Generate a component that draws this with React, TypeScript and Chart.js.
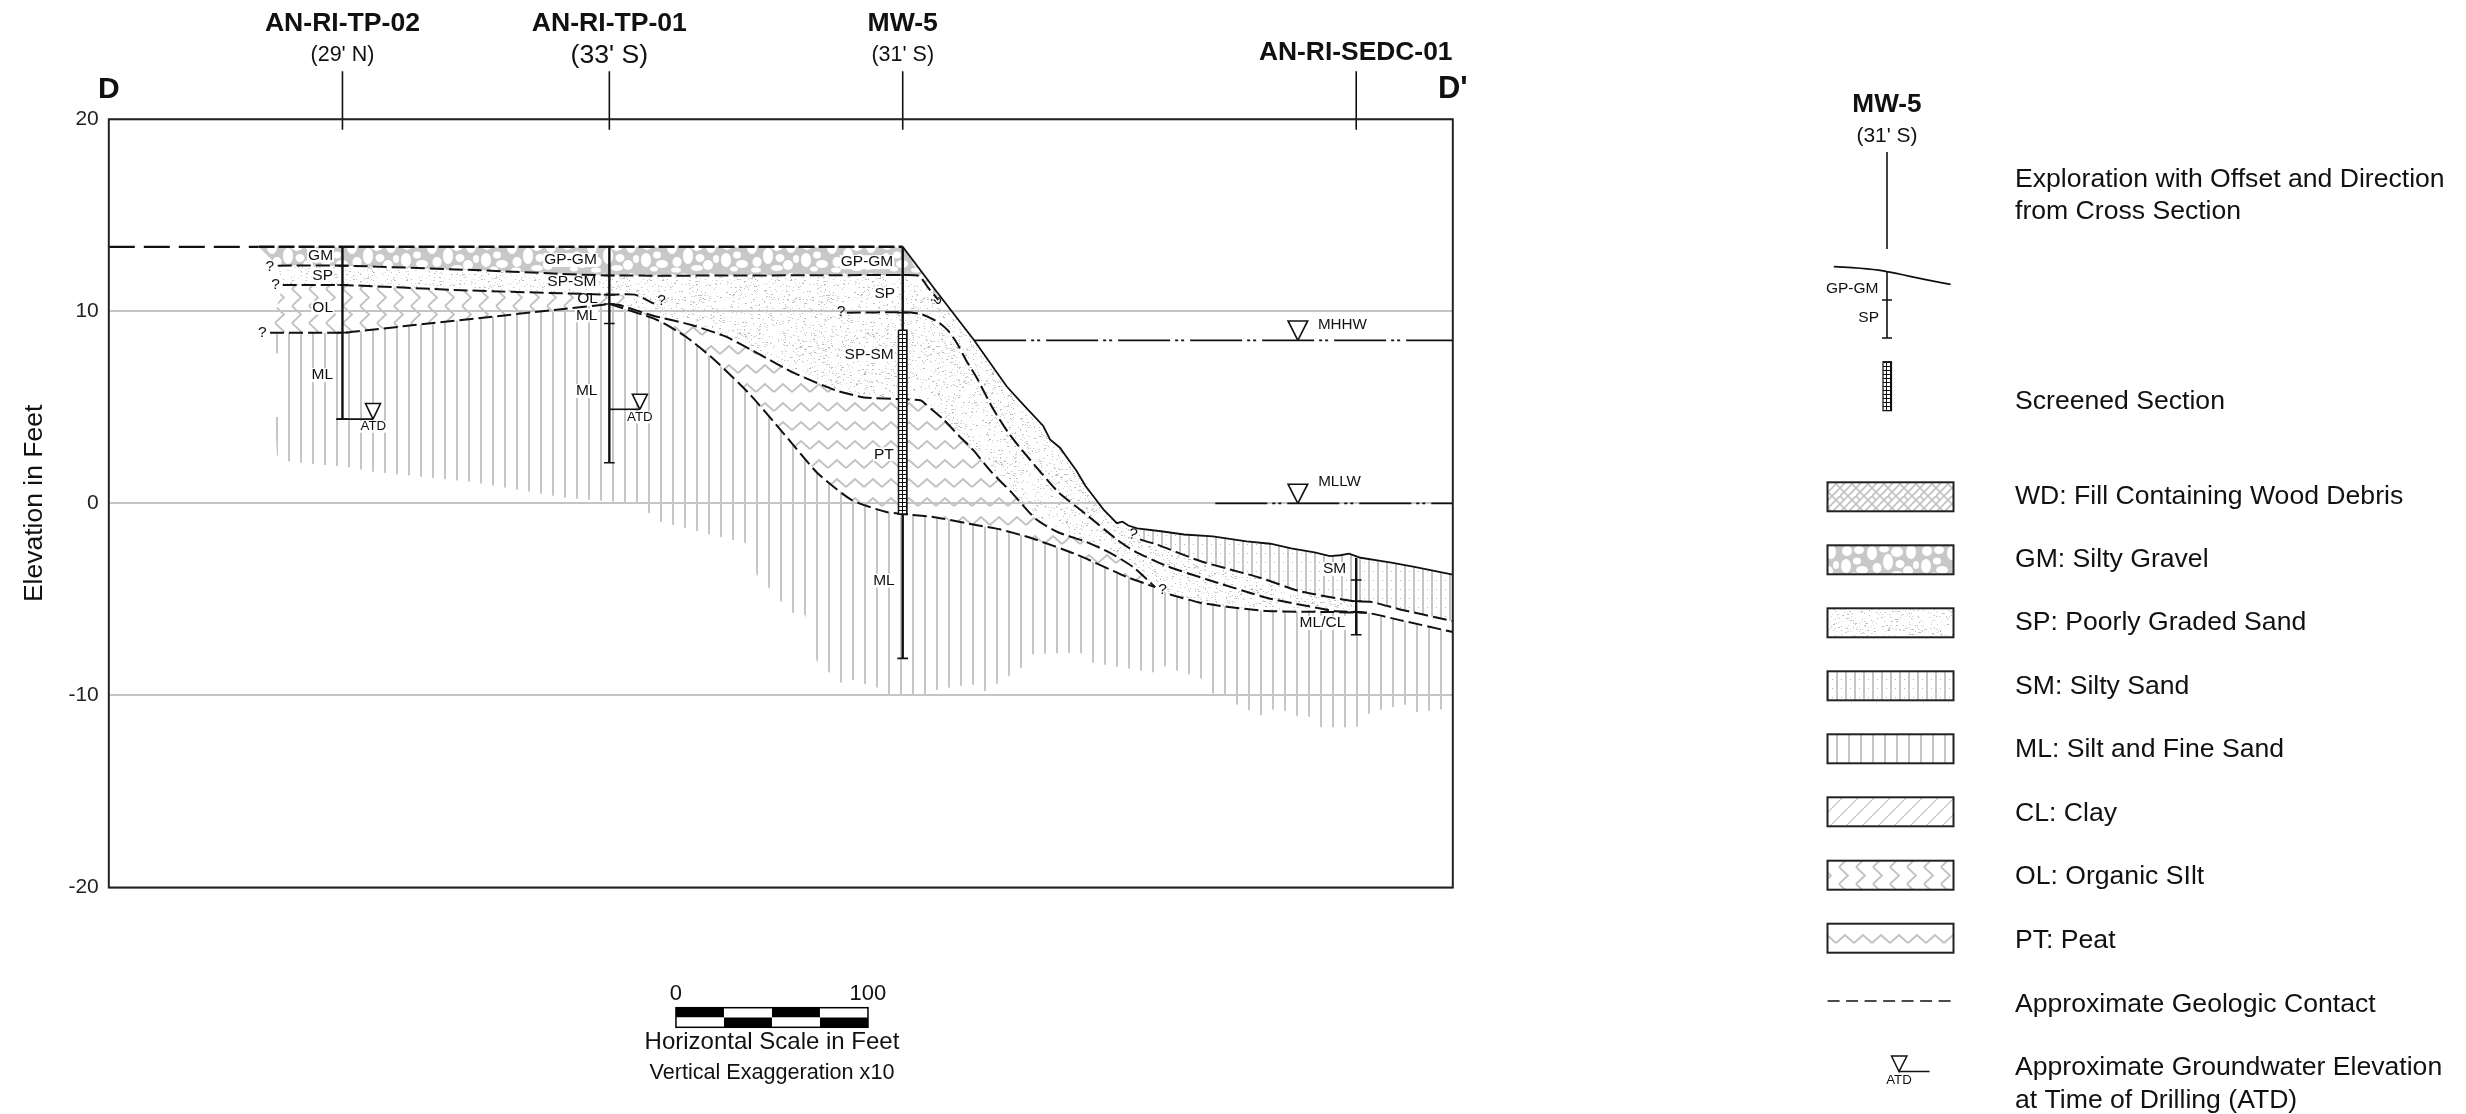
import React, { useEffect, useRef } from "react";
import { Chart, registerables } from "chart.js";

Chart.register(...registerables);

const FONT = '"Liberation Sans", Arial, sans-serif';

// ---------- axis ----------
const xMin = 0, xMax = 700;
const yMin = -20, yMax = 20;
const yTitle = "Elevation in Feet";

// ---------- borings ----------
const boringNames = ["AN-RI-TP-02", "AN-RI-TP-01", "MW-5", "AN-RI-SEDC-01"];
const boringOffsets = ["(29' N)", "(33' S)", "(31' S)", ""];
const boringX = [121.7, 260.7, 413.5, 649.7];
const boringTop = [13.36, 13.36, 13.36, -2.83];
const boringBottom = [4.39, 2.12, -8.07, -6.84];
const boringTicks = [
  [12.38, 11.37, 8.89, 4.39],
  [11.87, 10.87, 10.38, 9.37, 2.12],
  [11.89, 9.93, 5.42, -0.55, -8.07],
  [-3.99, -5.09, -5.66, -6.84],
];

// ---------- surfaces and contacts ----------
const groundX = [413.5, 431, 450.5, 467.6, 474.6, 486.7, 490.2, 495.4, 499.5, 504, 508.8, 513, 518, 525, 528, 531, 535.6, 548, 560, 575, 592.6, 605, 615.8, 628, 636, 641.4, 646, 652, 662.3, 668, 680, 700];
const groundY = [13.36, 11.05, 8.52, 6.1, 5.33, 4.03, 3.33, 2.9, 2.32, 1.7, 0.89, 0.35, -0.31, -1.03, -0.95, -1.15, -1.3, -1.45, -1.62, -1.72, -1.98, -2.1, -2.34, -2.55, -2.75, -2.7, -2.62, -2.83, -2.99, -3.08, -3.3, -3.71];
const topDashLeftX = [0, 78];
const topDashRightX = [78, 413.5];
const topDashY = [13.36, 13.36];

const gmSpX = [88, 122, 190, 261, 414, 422, 427, 432];
const gmSpY = [12.38, 12.38, 12.15, 11.87, 11.89, 11.84, 11.2, 10.6];
const spOlX = [90.6, 122, 184, 261, 274, 284];
const spOlY = [11.37, 11.37, 11.1, 10.87, 10.87, 10.4];
const olMlX = [84, 122, 130, 232, 261];
const olMlY = [8.89, 8.89, 8.97, 10.07, 10.38];
const peatTopX = [261, 266, 282.6, 303.5, 321.5, 338, 357.4, 378.3, 393.3, 414, 423, 425, 434.6, 443, 450, 460, 470.3, 483, 495, 508, 521.5, 534, 545];
const peatTopY = [10.38, 10.33, 9.8, 9.29, 8.68, 7.81, 6.77, 5.9, 5.52, 5.42, 5.36, 5.2, 4.38, 3.5, 2.8, 1.6, 0.56, -0.83, -1.53, -1.96, -2.57, -3.35, -4.36];
const peatBaseX = [285.6, 300.6, 315.5, 333.4, 351.4, 369.3, 387, 405, 413.6, 430, 453, 464, 480, 504, 530, 545];
const peatBaseY = [9.55, 8.68, 7.47, 5.73, 3.65, 1.56, 0.17, -0.45, -0.55, -0.72, -1.15, -1.35, -1.79, -2.66, -3.82, -4.36];
const sandBaseX = [552.7, 568.4, 582.3, 603.1, 637.8, 655.2];
const sandBaseY = [-4.74, -5.17, -5.38, -5.6, -5.66, -5.69];
const spSmX = [384.4, 414, 423, 432, 437.3, 441.6, 446.8, 452, 460.7, 468.5, 474.6, 494, 508, 525, 534, 551, 572, 603, 620, 638, 655, 673, 700];
const spSmY = [9.93, 9.95, 9.86, 9.44, 8.98, 8.37, 7.4, 6.55, 4.9, 3.68, 2.9, 0.64, -0.49, -1.875, -2.48, -3.26, -3.96, -4.91, -5.26, -5.6, -5.69, -6.09, -6.7];
const smBaseX = [537, 545.8, 568.4, 599.6, 620.4, 648.2, 657, 672.6, 700];
const smBaseY = [-1.875, -2.14, -3, -3.87, -4.57, -5.09, -5.12, -5.52, -6.13];
const mlRightX = [673, 700];
const mlRightY = [-6.09, -6.7];

const mlBottomX = [87.6, 94.2, 124, 137.6, 188.4, 213.8, 237.7, 275, 287, 300, 312.3, 331.4, 337.4, 343.5, 349.6, 356, 362.6, 368.7, 374.8, 381.2, 387.4, 393.7, 400, 406, 425, 431.2, 437.3, 443.7, 450, 456, 462.4, 468.5, 475, 481.2, 493.7, 505.9, 512.5, 518.9, 525, 531.2, 537.5, 543.7, 550, 556.2, 562.5, 568.7, 575, 581.4, 587.5, 593.7, 600, 606.2, 612.5, 618.7, 625, 631.2, 649.9, 656.2, 662.5, 668.7, 675.1, 681.2, 693.7, 700];
const mlBottomY = [2.5, 2.17, 1.9, 1.65, 1.13, 0.7, 0.3, 0, -0.95, -1.27, -1.6, -2.05, -3.7, -4.36, -5.05, -5.7, -5.8, -8.2, -8.77, -9.34, -9.2, -9.4, -9.57, -10.03, -10.03, -9.72, -9.6, -9.5, -9.43, -9.8, -9.4, -9, -8.6, -7.86, -7.8, -7.78, -8.3, -8.4, -8.5, -8.6, -8.7, -8.8, -8.47, -8.7, -8.9, -9.1, -9.9, -10.03, -10.47, -10.76, -11.04, -10.73, -10.8, -11.08, -11.08, -11.65, -11.65, -10.94, -10.76, -10.6, -10.47, -10.87, -10.73, -10.64];
const mlBreakX = [85, 90, 90, 85];
const mlBreakY = [7.8, 7.8, 4.5, 4.5];

// ---------- screen, water levels ----------
const screenX = [411.3, 415.7, 415.7, 411.3, 411.3];
const screenY = [9.02, 9.02, -0.55, -0.55, 9.02];
const mhhwX = [450.7, 700];
const mhhwY = [8.49, 8.49];
const mllwX = [576.3, 700];
const mllwY = [0, 0];
const atd1X = [118.4, 137.6];
const atd1Y = [4.39, 4.39];
const atd2X = [260.7, 276.6];
const atd2Y = [4.9, 4.9];
const triTipX = [137.6, 276.6, 619.3, 619.3];
const triTipY = [4.39, 4.9, 8.49, 0];
const triTopY = [5.2, 5.68, 9.5, 1.0];
const triHalf = [3.9, 3.9, 5.1, 5.1];

// ---------- labels inside the section ----------
const soilText = ["GM", "SP", "OL", "ML", "GP-GM", "SP-SM", "OL", "ML", "ML", "GP-GM", "SP", "SP-SM", "PT", "ML", "SM", "ML/CL"];
const soilX = [110.3, 111.4, 111.4, 111.2, 240.5, 241.2, 249.4, 248.9, 248.9, 394.9, 404.2, 396, 403.7, 403.7, 638.4, 632.1];
const soilY = [12.92, 11.87, 10.19, 6.68, 12.67, 11.53, 10.66, 9.79, 5.85, 12.56, 10.93, 7.75, 2.56, -4.02, -3.42, -6.22];
const queryX = [83.9, 86.9, 79.9, 287.9, 381.4, 430.5, 533.3, 548.8];
const queryY = [12.32, 11.4, 8.89, 10.54, 9.98, 10.57, -1.63, -4.5];
const queryTurn = [0, 0, 0, 0, 0, 90, 15, 0];
const waterText = ["ATD", "ATD", "MHHW", "MLLW"];
const waterX = [137.8, 276.6, 642.5, 641];
const waterY = [3.99, 4.48, 9.3, 1.12];

// ---------- legend and scale ----------
const legendSwatches = ["WD: Fill Containing Wood Debris", "GM: Silty Gravel", "SP: Poorly Graded Sand", "SM: Silty Sand", "ML: Silt and Fine Sand", "CL: Clay", "OL: Organic SIlt", "PT: Peat"];
const legendKeys = ["wd", "gm", "sp", "sm", "ml", "cl", "ol", "pt"];
const legendNotes = ["Exploration with Offset and Direction", "from Cross Section", "Screened Section", "Approximate Geologic Contact", "Approximate Groundwater Elevation", "at Time of Drilling (ATD)"];
const scaleTicks = ["0", "100"];
const scaleStartFt = 295.4;
const scaleSpanFt = 100;
const scaleTitle = "Horizontal Scale in Feet";
const scaleNote = "Vertical Exaggeration x10";

const pts = (xs: number[], ys: number[]) => xs.map((x, i) => ({ x, y: ys[i] }));
const rev = <T,>(a: T[]) => [...a].reverse();
const hash = (i: number) => {
  const s = Math.sin(i * 12.9898) * 43758.5453;
  return s - Math.floor(s);
};

function makeTile(w: number, h: number, draw: (c: CanvasRenderingContext2D) => void) {
  const c = document.createElement("canvas");
  c.width = w;
  c.height = h;
  draw(c.getContext("2d") as CanvasRenderingContext2D);
  return c;
}

const GRAVEL = [
  [7, 7, 5, 5], [19, 6, 5, 4], [32, 9, 5, 7], [44, 5, 5, 3.5], [57, 8, 6, 5], [71, 8, 5, 7],
  [6, 22, 5, 7], [17, 17, 4, 3.5], [22, 26, 6, 4], [37, 24, 4.5, 5], [48, 18, 5, 8], [60, 20, 4.5, 4],
  [68, 27, 5, 5], [76, 21, 3, 4], [14, 31, 4, 2.5], [36, 32, 5, 2.5], [57, 30, 6, 3],
];

function makePatterns(ctx: CanvasRenderingContext2D) {
  const gray = "#c2c2c2";
  const stroke = (c: CanvasRenderingContext2D, lw: number, p: number[][]) => {
    c.strokeStyle = gray;
    c.lineWidth = lw;
    c.beginPath();
    p.forEach(([x, y], i) => (i ? c.lineTo(x, y) : c.moveTo(x, y)));
    c.stroke();
  };
  const tiles: Record<string, HTMLCanvasElement> = {
    ml: makeTile(12, 4, (c) => {
      c.fillStyle = "#c6c6c6";
      c.fillRect(0, 0, 2, 4);
    }),
    sm: makeTile(9, 9, (c) => {
      c.fillStyle = "#c6c6c6";
      c.fillRect(0, 0, 2, 9);
      c.fillStyle = "#b5b5b5";
      c.fillRect(5, 4, 1, 1);
    }),
    sp: makeTile(128, 128, (c) => {
      for (let i = 0; i < 1150; i++) {
        const x = Math.floor(hash(i + 1) * 128);
        const y = Math.floor(hash(i + 5003) * 128);
        c.fillStyle = hash(i + 907) > 0.55 ? "#bdbdbd" : "#d6d6d6";
        c.fillRect(x, y, hash(i + 77) > 0.7 ? 2 : 1, 1);
      }
    }),
    gm: makeTile(80, 34, (c) => {
      c.fillStyle = "#c8c8c8";
      c.fillRect(0, 0, 80, 34);
      c.fillStyle = "#fff";
      GRAVEL.forEach(([x, y, rx, ry]) => {
        [-80, 0, 80].forEach((dx) =>
          [-34, 0, 34].forEach((dy) => {
            c.beginPath();
            c.ellipse(x + dx, y + dy, rx, ry, 0, 0, Math.PI * 2);
            c.fill();
          })
        );
      });
    }),
    pt: makeTile(18, 19, (c) => stroke(c, 2, [[0, 12], [9, 4], [18, 12]])),
    ol: makeTile(17, 17, (c) => stroke(c, 1.8, [[3, 0], [12, 8.5], [3, 17]])),
    cl: makeTile(16, 16, (c) => {
      stroke(c, 1.2, [[-2, 18], [18, -2]]);
    }),
    wd: makeTile(16, 16, (c) => {
      stroke(c, 1.6, [[-2, 18], [18, -2]]);
      stroke(c, 1.6, [[-2, 10], [10, -2]]);
      stroke(c, 1.6, [[6, 18], [18, 6]]);
      stroke(c, 1.6, [[-2, -2], [4, 4]]);
      stroke(c, 1.6, [[8, 0], [16, 8]]);
      stroke(c, 1.6, [[0, 8], [8, 16]]);
    }),
    screen: makeTile(4, 4, (c) => {
      c.fillStyle = "#fff";
      c.fillRect(0, 0, 4, 4);
      c.fillStyle = "#111";
      c.fillRect(2, 0, 1, 4);
      c.fillRect(0, 2, 4, 1);
    }),
  };
  const out: Record<string, CanvasPattern> = {};
  Object.keys(tiles).forEach((k) => {
    out[k] = ctx.createPattern(tiles[k], "repeat") as CanvasPattern;
  });
  return out;
}

function text(c: CanvasRenderingContext2D, s: string, x: number, y: number, font: string, align: CanvasTextAlign = "center", color = "#111") {
  c.font = font;
  c.textAlign = align;
  c.textBaseline = "middle";
  c.fillStyle = color;
  c.fillText(s, x, y);
}

export default function App() {
  const ref = useRef<HTMLCanvasElement>(null);

  useEffect(() => {
    const canvas = ref.current as HTMLCanvasElement;
    const ctx = canvas.getContext("2d") as CanvasRenderingContext2D;
    const pat = makePatterns(ctx);

    const line = (data: any[], width: number, dash: number[] = [], tension = 0) => ({
      data, showLine: true, pointRadius: 0, borderColor: "#111", borderWidth: width, borderDash: dash, tension, fill: false, clip: false,
    });
    const area = (data: any[], bg: any) => ({
      data, showLine: true, pointRadius: 0, borderColor: "rgba(0,0,0,0)", borderWidth: 0, backgroundColor: bg, fill: "shape",
    });

    const ground = pts(groundX, groundY);
    const gmSp = pts(gmSpX, gmSpY);
    const spOl = pts(spOlX, spOlY);
    const olMl = pts(olMlX, olMlY);
    const peatTop = pts(peatTopX, peatTopY);
    const peatBase = pts(peatBaseX, peatBaseY);
    const sandBase = pts(sandBaseX, sandBaseY);
    const smBase = pts(smBaseX, smBaseY);
    const mlBottom = pts(mlBottomX, mlBottomY);

    const lines: any[] = [];
    // well screen
    lines.push({ ...line(pts(screenX, screenY), 1.5), fill: "shape", backgroundColor: pat.screen });
    // water level triangles
    triTipX.forEach((x, i) => {
      lines.push({
        ...line([
          { x, y: triTipY[i] },
          { x: x - triHalf[i], y: triTopY[i] },
          { x: x + triHalf[i], y: triTopY[i] },
          { x, y: triTipY[i] },
        ], 1.6),
        fill: "shape",
        backgroundColor: "#fff",
      });
    });
    // borings with header stems and contact ticks
    boringX.forEach((x, i) => {
      lines.push(line([{ x, y: boringTop[i] }, { x, y: boringBottom[i] }], 2.4));
      lines.push(line([{ x, y: 22.5 }, { x, y: 19.45 }], 1.6));
      const ticks: any[] = [];
      boringTicks[i].forEach((y) => {
        ticks.push({ x: x - 2.8, y }, { x: x + 2.8, y }, { x: NaN, y: NaN });
      });
      lines.push(line(ticks, 1.6));
    });
    lines.push(line(pts(atd1X, atd1Y), 1.6));
    lines.push(line(pts(atd2X, atd2Y), 1.6));
    lines.push(line(pts(mhhwX, mhhwY), 1.8, [52, 5, 3, 3, 3, 6]));
    lines.push(line(pts(mllwX, mllwY), 1.8, [52, 5, 3, 3, 3, 6]));
    lines.push(line(ground, 1.8));
    lines.push(line(pts(topDashLeftX, topDashY), 2.2, [26, 9]));
    lines.push(line(pts(topDashRightX, topDashY), 2.4, [16, 4]));
    [gmSp, spOl, olMl, [olMl[olMl.length - 1], ...peatTop.slice(1)], pts(spSmX, spSmY), smBase, sandBase,
      [olMl[olMl.length - 1], ...peatBase]].forEach((d) => lines.push(line(d, 2, [14, 5], 0.2)));

    const fills: any[] = [
      // sand body (SP and SP-SM)
      area([
        ...gmSp.slice(0, 5),
        ...ground.filter((p) => p.x >= 431 && p.x <= 531),
        ...smBase.filter((p) => p.x <= 648.2),
        { x: 648.2, y: -5.66 },
        ...rev(sandBase.filter((p) => p.x <= 648)),
        ...rev(peatTop.slice(1)),
        ...rev(spOl.slice(0, 5)),
      ], pat.sp),
      // silty gravel
      area([
        { x: 78, y: 13.36 },
        { x: 413.5, y: 13.36 },
        { x: 431, y: 11.05 },
        ...rev(gmSp),
      ], pat.gm),
      // organic silt
      area([
        ...spOl.slice(0, 5),
        peatTop[1],
        ...rev(olMl),
      ], pat.ol),
      // peat
      area([...peatTop, ...rev(peatBase), olMl[olMl.length - 1]], pat.pt),
      // silty sand
      area([
        ...ground.filter((p) => p.x >= 535.6),
        ...rev(smBase),
      ], pat.sm),
      // break in the ML hatching
      area(pts(mlBreakX, mlBreakY), "#fff"),
      // silt and fine sand
      area([
        ...olMl,
        ...peatBase,
        ...sandBase,
        ...pts(mlRightX, mlRightY),
        ...rev(mlBottom),
      ], pat.ml),
    ];
    const firstFill = lines.length;

    const sectionPlugin = {
      id: "section",
      afterDatasetDraw(chart: any, args: any) {
        if (args.index !== firstFill) return;
        const c = chart.ctx;
        const { x, y } = chart.scales;
        c.save();
        c.fillStyle = "#fff";
        const mask = (s: string, px: number, py: number, size: number) => {
          c.font = `${size}px ${FONT}`;
          const w = c.measureText(s).width;
          c.fillRect(px - w / 2 - 1, py - size * 0.45, w + 2, size * 0.9);
        };
        soilText.forEach((s, i) => mask(s, x.getPixelForValue(soilX[i]), y.getPixelForValue(soilY[i]), 15.5));
        waterText.slice(0, 2).forEach((s, i) => mask(s, x.getPixelForValue(waterX[i]), y.getPixelForValue(waterY[i]), 13.3));
        c.restore();
      },
      afterDatasetsDraw(chart: any) {
        const c = chart.ctx;
        const { x, y } = chart.scales;
        const { left, top, right, bottom } = chart.chartArea;
        c.save();
        c.strokeStyle = "#222";
        c.lineWidth = 2;
        c.strokeRect(left, top, right - left, bottom - top);

        // section labels
        soilText.forEach((s, i) => text(c, s, x.getPixelForValue(soilX[i]), y.getPixelForValue(soilY[i]), `15.5px ${FONT}`));
        queryX.forEach((qx, i) => {
          c.save();
          c.translate(x.getPixelForValue(qx), y.getPixelForValue(queryY[i]));
          c.rotate((queryTurn[i] * Math.PI) / 180);
          text(c, "?", 0, 0, `15.5px ${FONT}`);
          c.restore();
        });
        waterText.forEach((s, i) => text(c, s, x.getPixelForValue(waterX[i]), y.getPixelForValue(waterY[i]), `${i < 2 ? 13.3 : 15.2}px ${FONT}`));

        // boring headers
        boringNames.forEach((s, i) => {
          const px = x.getPixelForValue(boringX[i]);
          if (i === 3) {
            text(c, s, px - 0.5, 53, `bold 26.4px ${FONT}`);
          } else {
            text(c, s, px, 24, `bold 26.6px ${FONT}`);
            text(c, boringOffsets[i], px, i === 1 ? 56 : 55, `${i === 1 ? 26.6 : 21.5}px ${FONT}`);
          }
        });
        text(c, "D", left, 90, `bold 30px ${FONT}`);
        text(c, "D'", right, 89, `bold 31px ${FONT}`);

        // scale bar
        const barX = (f: number) => x.getPixelForValue(scaleStartFt + scaleSpanFt * f);
        const barTop = 1007.7, barMid = 1017.5, barBot = 1027.3;
        for (let k = 0; k < 4; k++) {
          const a = barX(k / 4), b = barX((k + 1) / 4);
          c.fillStyle = k % 2 ? "#fff" : "#000";
          c.fillRect(a, barTop, b - a, barMid - barTop);
          c.fillStyle = k % 2 ? "#000" : "#fff";
          c.fillRect(a, barMid, b - a, barBot - barMid);
        }
        c.lineWidth = 1.5;
        c.strokeStyle = "#000";
        c.strokeRect(barX(0), barTop, barX(1) - barX(0), barBot - barTop);
        text(c, scaleTicks[0], barX(0), 994, `22px ${FONT}`);
        text(c, scaleTicks[1], barX(1), 994, `22px ${FONT}`);
        text(c, scaleTitle, barX(0.5), 1042, `24px ${FONT}`);
        text(c, scaleNote, barX(0.5), 1072.7, `21.6px ${FONT}`);

        // legend: exploration symbol
        const lx = 1887;
        text(c, "MW-5", lx, 105, `bold 26.2px ${FONT}`);
        text(c, "(31' S)", lx, 136, `21px ${FONT}`);
        c.strokeStyle = "#111";
        c.lineWidth = 1.6;
        c.beginPath();
        c.moveTo(lx, 152);
        c.lineTo(lx, 249);
        c.stroke();
        c.lineWidth = 1.8;
        c.beginPath();
        c.moveTo(1833.8, 266.7);
        c.bezierCurveTo(1860, 268, 1875, 269, 1887, 271.7);
        c.bezierCurveTo(1905, 275, 1925, 280, 1950.6, 284.3);
        c.stroke();
        c.lineWidth = 1.6;
        c.beginPath();
        c.moveTo(lx, 271.7);
        c.lineTo(lx, 338);
        c.moveTo(lx - 5, 300);
        c.lineTo(lx + 5, 300);
        c.moveTo(lx - 5, 338);
        c.lineTo(lx + 5, 338);
        c.stroke();
        text(c, "GP-GM", 1878.4, 288.7, `15.5px ${FONT}`, "right");
        text(c, "SP", 1879, 318, `15.5px ${FONT}`, "right");
        c.fillStyle = pat.screen;
        c.fillRect(1883, 361.7, 8.5, 49);
        c.lineWidth = 1.2;
        c.strokeRect(1883, 361.7, 8.5, 49);

        const noteX = 2015;
        const noteFont = `26.6px ${FONT}`;
        text(c, legendNotes[0], noteX, 180, noteFont, "left");
        text(c, legendNotes[1], noteX, 211.7, noteFont, "left");
        text(c, legendNotes[2], noteX, 401.7, noteFont, "left");

        // legend: swatches
        const rowTop = [482.3, 545.3, 608.3, 671.3, 734.3, 797.3, 860.7, 923.7];
        const rowText = [14, 14, 14.5, 15, 15.5, 16, 16, 17];
        legendSwatches.forEach((s, i) => {
          c.fillStyle = "#fff";
          c.fillRect(1827.5, rowTop[i], 126, 29);
          c.fillStyle = pat[legendKeys[i]];
          c.fillRect(1827.5, rowTop[i], 126, 29);
          c.strokeStyle = "#222";
          c.lineWidth = 2;
          c.strokeRect(1827.5, rowTop[i], 126, 29);
          text(c, s, noteX, rowTop[i] + rowText[i], noteFont, "left");
        });

        // legend: contact
        c.strokeStyle = "#111";
        c.lineWidth = 1.5;
        c.setLineDash([12, 6.5]);
        c.beginPath();
        c.moveTo(1827.6, 1001);
        c.lineTo(1953.6, 1001);
        c.stroke();
        c.setLineDash([]);
        text(c, legendNotes[3], noteX, 1004.7, noteFont, "left");

        // legend: groundwater
        c.beginPath();
        c.moveTo(1899, 1071.5);
        c.lineTo(1891.5, 1056);
        c.lineTo(1906.9, 1056);
        c.closePath();
        c.moveTo(1899, 1071.5);
        c.lineTo(1929.6, 1071.5);
        c.lineWidth = 1.5;
        c.stroke();
        text(c, "ATD", 1899, 1080.5, `13.3px ${FONT}`);
        text(c, legendNotes[4], noteX, 1067.7, noteFont, "left");
        text(c, legendNotes[5], noteX, 1100.4, noteFont, "left");
        c.restore();
      },
    };

    const chart = new Chart(canvas, {
      type: "scatter",
      data: { datasets: [...lines, ...fills] },
      plugins: [sectionPlugin],
      options: {
        animation: false,
        responsive: false,
        devicePixelRatio: 1,
        events: [],
        layout: { padding: { left: 0, top: 119.3, right: 2466 - 1452.8, bottom: 1114 - 887.5 } },
        plugins: { legend: { display: false }, tooltip: { enabled: false }, title: { display: false } },
        scales: {
          x: { type: "linear", min: xMin, max: xMax, display: false },
          y: {
            type: "linear",
            min: yMin,
            max: yMax,
            afterFit: (s: any) => { s.width = 108.8; },
            grid: { color: "#c4c4c4", lineWidth: 2, drawTicks: false },
            border: { display: false },
            ticks: { stepSize: 10, padding: 10, color: "#222", font: { family: FONT, size: 21 } },
            title: { display: true, text: yTitle, color: "#111", padding: { top: 19, bottom: 0 }, font: { family: FONT, size: 26.5 } },
          },
        },
      } as any,
    } as any);
    return () => chart.destroy();
  }, []);

  return (
    <div style={{ position: "fixed", left: 0, top: 0, width: 2466, height: 1114, background: "#fff" }}>
      <canvas ref={ref} width={2466} height={1114} style={{ display: "block", width: 2466, height: 1114 }} />
    </div>
  );
}
